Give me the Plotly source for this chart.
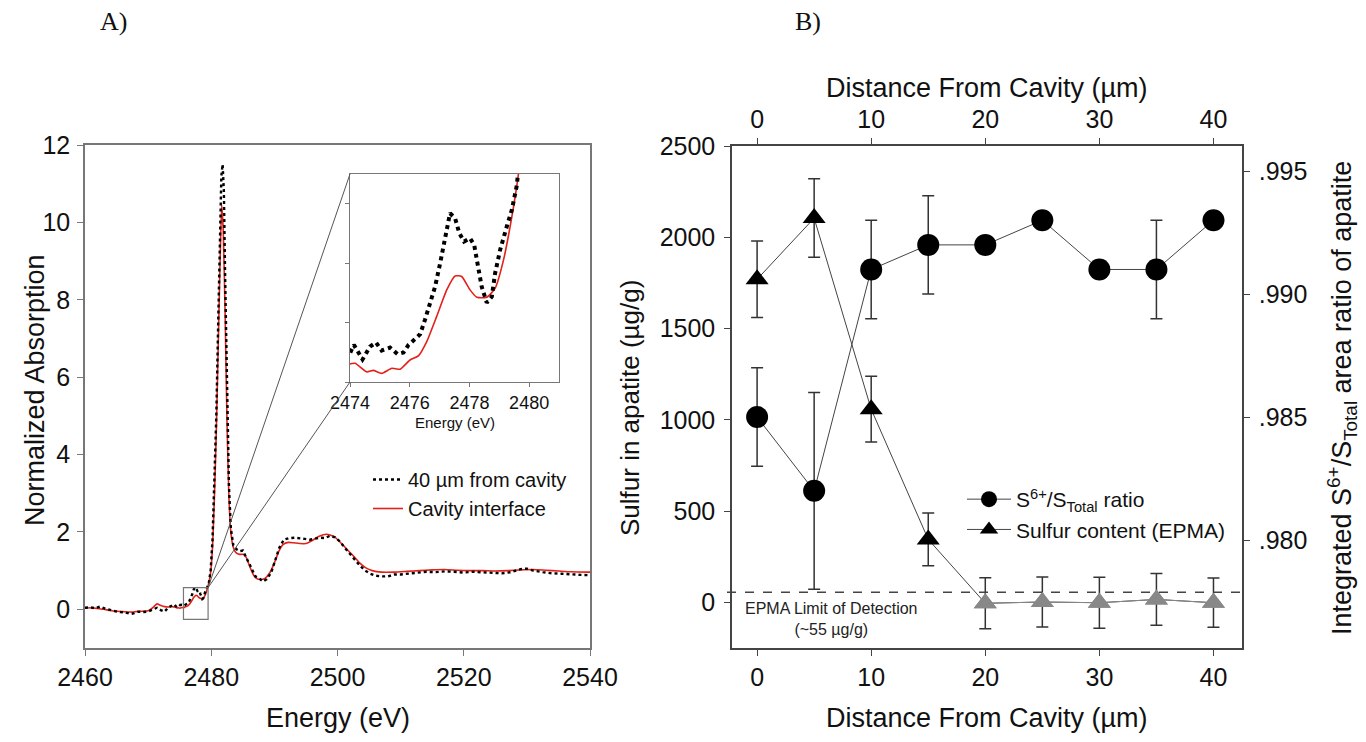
import plotly.graph_objects as go

# page has an 8 px body margin: figure is drawn 8 px right/down of the page origin
OFF = 8
W, H = 1366 - OFF, 742 - OFF

# ---------------- Panel A data (XANES spectra) ----------------
energy_red = [2460.0, 2461.0, 2462.0, 2463.0, 2464.0, 2465.0, 2466.0, 2467.0, 2468.0, 2469.0,
              2470.0, 2470.8, 2471.4, 2472.0, 2472.6, 2473.2, 2473.6,
              2474.0, 2474.17, 2474.56, 2474.78, 2475.06, 2475.40, 2475.68, 2476.01, 2476.29,
              2476.57, 2476.90, 2477.24, 2477.52, 2477.74, 2478.02, 2478.25, 2478.58, 2478.86,
              2479.14, 2479.42, 2479.64,
              2479.9, 2480.2, 2480.5, 2480.8, 2481.1, 2481.4, 2481.65, 2481.9, 2482.2, 2482.5,
              2482.8, 2483.1, 2483.5, 2484.0, 2484.5, 2485.0, 2485.5, 2486.0, 2486.5, 2487.0,
              2487.7, 2488.5, 2489.3, 2490.0, 2490.7, 2491.4, 2492.2, 2493.0, 2494.0, 2495.0,
              2496.0, 2497.0, 2498.3, 2499.5, 2500.5, 2501.5, 2502.5, 2503.5, 2504.5, 2505.5,
              2507.0, 2509.0, 2511.0, 2513.0, 2515.0, 2517.0, 2519.0, 2521.0, 2523.0, 2525.0,
              2527.0, 2529.0, 2531.0, 2533.0, 2535.0, 2537.0, 2540.0]
absorb_red = [0.03, 0.04, 0.02, 0.00, -0.03, -0.05, -0.06, -0.07, -0.06, -0.05,
              -0.04, 0.05, 0.14, 0.10, 0.07, 0.06, 0.07,
              0.061, 0.063, 0.034, 0.039, 0.029, 0.046, 0.043, 0.074, 0.088,
              0.136, 0.220, 0.310, 0.357, 0.355, 0.310, 0.285, 0.285, 0.315,
              0.410, 0.556, 0.699,
              0.95, 1.6, 2.9, 4.6, 6.8, 9.0, 10.45, 9.8, 7.6, 4.8,
              2.9, 2.0, 1.6, 1.45, 1.42, 1.42, 1.35, 1.15, 0.95, 0.82,
              0.77, 0.80, 0.95, 1.20, 1.50, 1.68, 1.73, 1.72, 1.70, 1.70,
              1.78, 1.88, 1.94, 1.88, 1.72, 1.55, 1.38, 1.20, 1.07, 1.00,
              0.96, 0.96, 0.98, 1.00, 1.02, 1.03, 1.01, 1.00, 1.00, 0.99,
              1.00, 1.02, 1.03, 1.01, 0.99, 0.97, 0.96]

energy_dot = [2460.0, 2460.8, 2461.6, 2462.4, 2463.2, 2464.0, 2464.8, 2465.6, 2466.4, 2467.2,
              2467.8, 2468.4, 2469.2, 2470.0, 2470.8, 2471.4, 2472.0, 2472.6, 2473.2, 2473.6,
              2474.0, 2474.13, 2474.42, 2474.67, 2474.87, 2475.06, 2475.34, 2475.59, 2475.79,
              2475.96, 2476.15, 2476.35, 2476.51, 2476.68, 2476.85, 2477.02, 2477.18, 2477.35,
              2477.52, 2477.66, 2477.82, 2478.02, 2478.16, 2478.27, 2478.41, 2478.58, 2478.75,
              2478.86, 2479.03, 2479.25, 2479.42, 2479.59, 2479.64,
              2479.9, 2480.2, 2480.5, 2480.8, 2481.1, 2481.35, 2481.6, 2481.8, 2482.0, 2482.2,
              2482.5, 2482.8, 2483.1, 2483.5, 2484.0, 2484.5, 2485.0, 2485.5, 2486.0, 2486.5,
              2487.0, 2487.6, 2488.2, 2488.8, 2489.5, 2490.2, 2490.8, 2491.5, 2492.3, 2493.2,
              2494.0, 2494.8, 2495.6, 2496.4, 2497.2, 2498.0, 2498.8, 2499.6, 2500.4, 2501.2,
              2502.0, 2502.8, 2503.6, 2504.4, 2505.2, 2506.0, 2507.0, 2508.0, 2509.0, 2510.0,
              2511.0, 2512.5, 2514.0, 2515.5, 2517.0, 2518.5, 2520.0, 2521.5, 2523.0, 2524.5,
              2526.0, 2527.5, 2529.0, 2530.0, 2531.0, 2532.5, 2534.0, 2535.5, 2537.0, 2538.5,
              2540.0]
absorb_dot = [0.04, 0.05, 0.03, 0.07, 0.02, -0.02, -0.05, -0.07, -0.08, -0.12,
              -0.10, -0.06, -0.07, -0.06, 0.00, 0.04, -0.02, -0.06, 0.05, 0.08,
              0.097, 0.125, 0.076, 0.119, 0.133, 0.106, 0.116, 0.094, 0.099,
              0.125, 0.142, 0.161, 0.209, 0.265, 0.321, 0.400, 0.489, 0.568,
              0.551, 0.501, 0.473, 0.484, 0.461, 0.400, 0.321, 0.267, 0.287,
              0.366, 0.445, 0.523, 0.579, 0.663, 0.699,
              1.0, 1.8, 3.2, 5.0, 7.4, 9.8, 11.2, 11.5, 10.8, 8.6,
              5.4, 3.2, 2.1, 1.65, 1.55, 1.50, 1.52, 1.35, 1.20, 1.00,
              0.85, 0.80, 0.72, 0.78, 0.95, 1.30, 1.60, 1.80, 1.84, 1.85,
              1.84, 1.82, 1.80, 1.82, 1.85, 1.84, 1.90, 1.86, 1.75, 1.58,
              1.42, 1.28, 1.12, 1.00, 0.92, 0.87, 0.85, 0.85, 0.90, 0.90,
              0.92, 0.94, 0.97, 0.96, 0.98, 0.97, 0.95, 0.97, 0.96, 0.94,
              0.93, 0.96, 1.04, 1.05, 1.00, 0.96, 0.93, 0.92, 0.90, 0.89,
              0.88]

energy_ticks = [2460, 2480, 2500, 2520, 2540]
absorb_ticks = [0, 2, 4, 6, 8, 10, 12]
inset_ticks = [2474, 2476, 2478, 2480]

# ---------------- Panel B data ----------------
distance = [0, 5, 10, 15, 20, 25, 30, 35, 40]
ratio = [0.985, 0.982, 0.991, 0.992, 0.992, 0.993, 0.991, 0.991, 0.993]
ratio_err = [0.002, 0.004, 0.002, 0.002, None, None, None, 0.002, None]
sulfur = [1770, 2105, 1058, 345, -5, 2, -2, 16, -2]
sulfur_err = [210, 215, 180, 145, 140, 137, 140, 142, 135]
below_lod = [False, False, False, False, True, True, True, True, True]
lod_value = 55
dist_ticks = [0, 10, 20, 30, 40]
sulfur_ticks = [0, 500, 1000, 1500, 2000, 2500]
ratio_tickvals = [0.980, 0.985, 0.990, 0.995]
ratio_ticktext = [".980", ".985", ".990", ".995"]

# ---------------- geometry (page pixels -> paper fractions) ----------------
def px(x):
    return (x - OFF) / W

def py(y):
    return 1 - (y - OFF) / H

A_xdom = [px(85), px(590)]
A_ydom = [py(648), py(145)]
A_xr = [2460, 2540]
A_yr = [-1, 12]
I_xdom = [px(350), px(559)]
I_ydom = [py(382), py(174)]
B_xdom = [px(732), px(1242)]
B_ydom = [py(648), py(146)]

FONT = "Arial, Liberation Sans, sans-serif"
RED = "#e32119"
TICK = 25

fig = go.Figure()

# Panel A main
fig.add_trace(go.Scatter(x=energy_red, y=absorb_red, mode="lines", name="Cavity interface",
                         line=dict(color=RED, width=1.6, shape="spline", smoothing=0.5),
                         xaxis="x", yaxis="y", legend="legend", legendrank=2))
fig.add_trace(go.Scatter(x=energy_dot, y=absorb_dot, mode="lines", name="40 µm from cavity",
                         line=dict(color="black", width=2.4, dash="dot"),
                         xaxis="x", yaxis="y", legend="legend", legendrank=1))
# inset
fig.add_trace(go.Scatter(x=energy_red, y=absorb_red, mode="lines", showlegend=False,
                         line=dict(color=RED, width=1.6, shape="spline", smoothing=0.5),
                         xaxis="x4", yaxis="y4"))
fig.add_trace(go.Scatter(x=energy_dot, y=absorb_dot, mode="lines", showlegend=False,
                         line=dict(color="black", width=4, dash="dot"),
                         xaxis="x4", yaxis="y4"))

# Panel B
tri_colors = ["#888888" if b else "black" for b in below_lod]
fig.add_trace(go.Scatter(x=distance, y=sulfur, mode="lines+markers", name="Sulfur content (EPMA)",
                         line=dict(color="#444444", width=1),
                         marker=dict(symbol="triangle-up", size=20, color=tri_colors),
                         error_y=dict(type="data", array=sulfur_err, color="#333333",
                                      thickness=1.5, width=6),
                         xaxis="x2", yaxis="y2", legend="legend2", legendrank=2))
lod_x = [d for d, b in zip(distance, below_lod) if b]
lod_y = [s for s, b in zip(sulfur, below_lod) if b]
fig.add_trace(go.Scatter(x=lod_x, y=lod_y, mode="lines+markers", showlegend=False,
                         line=dict(color="#888888", width=1),
                         marker=dict(symbol="triangle-up", size=20, color="#888888"),
                         xaxis="x2", yaxis="y2"))
fig.add_trace(go.Scatter(x=distance, y=ratio, mode="lines+markers",
                         name="S<sup>6+</sup>/S<sub>Total</sub> ratio",
                         line=dict(color="#444444", width=1),
                         marker=dict(symbol="circle", size=22, color="black"),
                         error_y=dict(type="data", array=ratio_err, color="#333333",
                                      thickness=1.5, width=6),
                         xaxis="x2", yaxis="y3", legend="legend2", legendrank=1))
# carrier for the top axis
fig.add_trace(go.Scatter(x=distance, y=ratio, mode="markers", showlegend=False,
                         marker=dict(opacity=0), hoverinfo="skip",
                         xaxis="x3", yaxis="y3"))

axis_common = dict(showgrid=False, zeroline=False, ticks="outside", ticklen=6, automargin=False,
                   tickfont=dict(family=FONT, size=TICK, color="#111"))

fig.update_layout(
    width=W, height=H, autosize=False,
    margin=dict(l=0, r=0, t=0, b=0, pad=0, autoexpand=False),
    paper_bgcolor="white", plot_bgcolor="white",
    font=dict(family=FONT, color="#111"),
    xaxis=dict(domain=A_xdom, range=A_xr, tickvals=energy_ticks, anchor="y",
               showline=True, linecolor="#777", linewidth=1.5, mirror=True,
               tickcolor="#777", **axis_common),
    yaxis=dict(domain=A_ydom, range=A_yr, tickvals=absorb_ticks, anchor="x",
               showline=True, linecolor="#777", linewidth=1.5, mirror=True,
               tickcolor="#777", ticklabelstandoff=2, **axis_common),
    xaxis4=dict(domain=I_xdom, range=[2474, 2481], tickvals=inset_ticks, anchor="y4",
                showline=True, linecolor="#777", linewidth=1.2, mirror=True, automargin=False,
                showgrid=False, zeroline=False, ticks="outside", ticklen=4, tickcolor="#777",
                tickfont=dict(family=FONT, size=18, color="#111")),
    yaxis4=dict(domain=I_ydom, range=[0, 0.7], dtick=0.2, tick0=0, anchor="x4",
                showline=True, linecolor="#777", linewidth=1.2, mirror=True, automargin=False,
                showgrid=False, zeroline=False, ticks="outside", ticklen=4, tickcolor="#777",
                showticklabels=False),
    xaxis2=dict(domain=B_xdom, range=[-2.2, 42.5], tickvals=dist_ticks, anchor="y2",
                showline=True, linecolor="#444", linewidth=1.5, tickcolor="#444",
                **axis_common),
    xaxis3=dict(overlaying="x2", side="top", range=[-2.2, 42.5], tickvals=dist_ticks,
                anchor="y3", showline=True, linecolor="#444", linewidth=1.5, tickcolor="#444",
                **axis_common),
    yaxis2=dict(domain=B_ydom, range=[-250, 2500], tickvals=sulfur_ticks, anchor="x2",
                showline=True, linecolor="#444", linewidth=1.5, tickcolor="#444",
                ticklabelstandoff=4, **axis_common),
    yaxis3=dict(overlaying="y2", side="right", range=[0.97561, 0.99602],
                tickvals=ratio_tickvals, ticktext=ratio_ticktext, anchor="x2",
                showline=True, linecolor="#444", linewidth=1.5, tickcolor="#444",
                ticklabelstandoff=4, **axis_common),
    legend=dict(x=px(368), y=py(460), xanchor="left", yanchor="top",
                bgcolor="rgba(0,0,0,0)", font=dict(family=FONT, size=20, color="#111"),
                tracegroupgap=2),
    legend2=dict(x=px(962), y=py(479), xanchor="left", yanchor="top", itemwidth=44,
                 bgcolor="rgba(0,0,0,0)", font=dict(family=FONT, size=21, color="#111")),
)

# connection rectangle and lines (inset zoom indicator)
rect_x = [2475.6, 2479.5]
rect_y = [-0.26, 0.56]

def a_paper(xv, yv):
    fx = A_xdom[0] + (xv - A_xr[0]) / (A_xr[1] - A_xr[0]) * (A_xdom[1] - A_xdom[0])
    fy = A_ydom[0] + (yv - A_yr[0]) / (A_yr[1] - A_yr[0]) * (A_ydom[1] - A_ydom[0])
    return fx, fy

cx, cy = a_paper(rect_x[1], rect_y[1])
shapes = [
    dict(type="rect", xref="x", yref="y", x0=rect_x[0], x1=rect_x[1], y0=rect_y[0], y1=rect_y[1],
         line=dict(color="#777", width=1.2)),
    dict(type="line", xref="paper", yref="paper", x0=cx, y0=cy, x1=I_xdom[0], y1=I_ydom[1],
         line=dict(color="#555", width=1)),
    dict(type="line", xref="paper", yref="paper", x0=cx, y0=cy, x1=I_xdom[0], y1=I_ydom[0],
         line=dict(color="#555", width=1)),
    dict(type="line", xref="paper", yref="y2", x0=px(727), x1=px(1246), y0=lod_value, y1=lod_value,
         line=dict(color="#444", width=1.5, dash="dash")),
]
fig.update_layout(shapes=shapes)

ann = []
def text(x, y, s, size, angle=0, family=FONT):
    ann.append(dict(x=px(x), y=py(y), xref="paper", yref="paper", text=s, showarrow=False,
                    xanchor="center", yanchor="middle", textangle=angle,
                    font=dict(family=family, size=size, color="#111")))

text(113, 22, "A)", 26, family="Liberation Serif, Times New Roman, serif")
text(808, 22, "B)", 26, family="Liberation Serif, Times New Roman, serif")
text(35, 390, "Normalized Absorption", 27, -90)
text(338, 718, "Energy (eV)", 27)
text(455, 422, "Energy (eV)", 15)
text(630, 408, "Sulfur in apatite (µg/g)", 26, -90)
text(1342, 398, "Integrated S<sup>6+</sup>/S<sub>Total</sub> area ratio of apatite", 27, -90)
text(987, 718, "Distance From Cavity (µm)", 27)
text(987, 88, "Distance From Cavity (µm)", 27)
ann.append(dict(x=6.5, y=25, xref="x2", yref="y2", text="EPMA Limit of Detection<br>(~55 µg/g)",
                showarrow=False, xanchor="center", yanchor="top",
                font=dict(family=FONT, size=16, color="#222")))
fig.update_layout(annotations=ann)

fig.write_html("out.html")
